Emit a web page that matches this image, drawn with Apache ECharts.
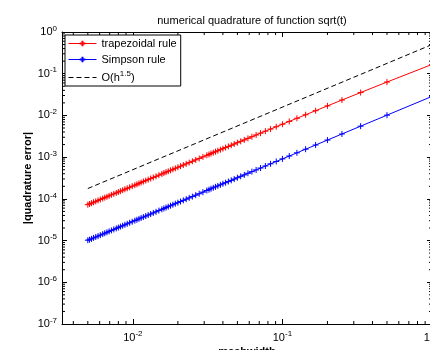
<!DOCTYPE html>
<html>
<head>
<meta charset="utf-8">
<script src="https://cdn.jsdelivr.net/npm/echarts@6/dist/echarts.min.js"></script>
<style>
  html, body { margin: 0; padding: 0; background: #fff; }
  #chart { width: 430px; height: 350px; }
</style>
</head>
<body>
<div id="chart"></div>
<script>
// meshwidth h = 1/N
const meshwidth = [
  1, 0.5, 0.3333, 0.25, 0.2, 0.1667, 0.1429, 0.125, 0.1111, 0.1,
  0.0909, 0.0833, 0.0769, 0.0714, 0.0667, 0.0625, 0.0588, 0.0556, 0.0526, 0.05,
  0.0476, 0.0455, 0.0435, 0.0417, 0.04, 0.0385, 0.037, 0.0357, 0.0345, 0.0333,
  0.0323, 0.03125, 0.02941, 0.02778, 0.02632, 0.025, 0.02381, 0.02273, 0.02174, 0.02083,
  0.02, 0.01923, 0.01852, 0.01786, 0.01724, 0.01667, 0.01613, 0.01563, 0.01493, 0.01429,
  0.0137, 0.01316, 0.01266, 0.0122, 0.01176, 0.01136, 0.01099, 0.01064, 0.01031, 0.0099,
  0.00952, 0.00917, 0.00885, 0.00855, 0.00826, 0.008, 0.00775, 0.00746, 0.00719, 0.00694,
  0.00671, 0.00649, 0.00629, 0.00606, 0.00585, 0.00565, 0.00546, 0.00529, 0.00513, 0.005
]
const trapezoidalError = [
  0.1667, 0.06308, 0.03538, 0.02339, 0.01693, 0.01299, 0.01038, 0.008537, 0.007186, 0.006158,
  0.005354, 0.004712, 0.004189, 0.003756, 0.003394, 0.003085, 0.002822, 0.002593, 0.002395, 0.00222,
  0.002066, 0.001929, 0.001806, 0.001696, 0.001596, 0.001507, 0.001425, 0.00135, 0.001282, 0.001219,
  0.001161, 0.001108, 0.001013, 0.00093, 0.000859, 0.000796, 0.00074, 0.000691, 0.000647, 0.000607,
  0.000571, 0.000539, 0.00051, 0.000483, 0.000458, 0.000436, 0.000415, 0.000396, 0.00037, 0.000347,
  0.000326, 0.000307, 0.000289, 0.000274, 0.00026, 0.000246, 0.000235, 0.000223, 0.000213, 0.000201,
  0.000189, 0.000179, 0.00017, 0.000161, 0.000153, 0.000146, 0.000139, 0.000132, 0.000125, 0.000118,
  0.000112, 0.000107, 0.000102, 0.0000966, 0.0000916, 0.000087, 0.0000828, 0.0000788, 0.0000752, 0.0000725
]
const simpsonError = [
  0.0286, 0.01015, 0.005525, 0.003589, 0.002568, 0.001953, 0.00155, 0.001269, 0.001063, 0.000908,
  0.000787, 0.000691, 0.000613, 0.000548, 0.000494, 0.000449, 0.00041, 0.000376, 0.000347, 0.000321,
  0.000298, 0.000278, 0.00026, 0.000244, 0.00023, 0.000217, 0.000205, 0.000194, 0.000184, 0.000175,
  0.000166, 0.000159, 0.0001448, 0.0001329, 0.0001226, 0.0001135, 0.0001055, 0.0000984, 0.000092, 0.0000863,
  0.0000812, 0.0000766, 0.0000724, 0.0000685, 0.000065, 0.0000618, 0.0000588, 0.0000561, 0.0000524, 0.000049,
  0.000046, 0.0000433, 0.0000409, 0.0000387, 0.0000366, 0.0000348, 0.0000331, 0.0000315, 0.0000301, 0.0000283,
  0.0000267, 0.0000252, 0.0000239, 0.0000227, 0.0000216, 0.0000205, 0.0000196, 0.0000185, 0.0000175, 0.0000166,
  0.0000158, 0.000015, 0.0000143, 0.0000135, 0.0000128, 0.0000122, 0.0000116, 0.000011, 0.0000105, 0.0000102
]
const refH = [0.005, 1]
const refErr = [1.77e-4, 0.5]

const xRange = [0.00336, 1]
const yRange = [1e-7, 1]
const xMinorTicks = [0.004, 0.005, 0.006, 0.007, 0.008, 0.009,
  0.02, 0.03, 0.04, 0.05, 0.06, 0.07, 0.08, 0.09,
  0.2, 0.3, 0.4, 0.5, 0.6, 0.7, 0.8, 0.9]
const yMinorTicks = []
for (let e = -7; e <= -1; e++) {
  for (let m = 2; m <= 9; m++) yMinorTicks.push(Number((m * Math.pow(10, e)).toPrecision(2)))
}

const font = "'Liberation Sans', Arial, sans-serif"
const plusSymbol = 'path://M-1,0L1,0M0,-1L0,1'

const powerLabel = (v) => {
  const e = Math.log10(v)
  if (Math.abs(e - Math.round(e)) > 1e-6) return ''
  return '{b|10}{e|' + Math.round(e) + '}'
}
const labelRich = {
  b: { fontSize: 11, fontFamily: font, color: '#000' },
  e: { fontSize: 8, fontFamily: font, color: '#000', verticalAlign: 'bottom', padding: [0, 0, 7, 0] }
}

const chart = echarts.init(document.getElementById('chart'))

const axisBase = {
  type: 'log',
  logBase: 10,
  nameMoveOverlap: false,
  axisLine: { show: true, lineStyle: { color: '#000', width: 1 } },
  axisTick: { show: true, inside: true, length: 5, lineStyle: { color: '#000' } },
  splitLine: { show: false }
}

const minorTickSeries = (data, isX) => ({
  type: 'custom',
  silent: true,
  clip: false,
  z: 10,
  data: data.map(v => isX ? [v, yRange[0]] : [xRange[0], v]),
  renderItem: (params, api) => {
    const v = isX ? api.value(0) : api.value(1)
    const a = api.coord(isX ? [v, yRange[0]] : [xRange[0], v])
    const b = api.coord(isX ? [v, yRange[1]] : [xRange[1], v])
    const style = { stroke: '#000', lineWidth: 1 }
    return {
      type: 'group',
      children: isX ? [
        { type: 'line', shape: { x1: a[0], y1: a[1], x2: a[0], y2: a[1] - 3 }, style },
        { type: 'line', shape: { x1: b[0], y1: b[1], x2: b[0], y2: b[1] + 3 }, style }
      ] : [
        { type: 'line', shape: { x1: a[0], y1: a[1], x2: a[0] + 3, y2: a[1] }, style },
        { type: 'line', shape: { x1: b[0], y1: b[1], x2: b[0] - 3, y2: b[1] }, style }
      ]
    }
  }
})

const option = {
  animation: false,
  backgroundColor: '#fff',
  title: {
    text: 'numerical quadrature of function sqrt(t)',
    left: 247,
    top: 10,
    textAlign: 'center',
    textStyle: { fontSize: 11, fontWeight: 'normal', fontFamily: font, color: '#000' }
  },
  legend: {
    orient: 'vertical',
    left: 65,
    top: 35,
    padding: [3, 4, 3, 3],
    itemGap: 5,
    itemWidth: 28,
    itemHeight: 7,
    backgroundColor: '#fff',
    borderColor: '#000',
    borderWidth: 1,
    borderRadius: 0,
    selectedMode: false,
    lineStyle: { width: 1 },
    textStyle: {
      fontSize: 11, fontFamily: font, color: '#000',
      rich: {
        t: { fontSize: 11, fontFamily: font, color: '#000' },
        s: { fontSize: 8, fontFamily: font, color: '#000', verticalAlign: 'bottom', padding: [0, 0, 7, 0] }
      }
    },
    formatter: name => name === 'O(h^1.5)' ? '{t|O(h}{s|1.5}{t|)}' : name,
    data: [
      'trapezoidal rule',
      'Simpson rule',
      { name: 'O(h^1.5)', itemStyle: { color: 'transparent', borderColor: 'transparent', borderWidth: 0 } }
    ]
  },
  grid: { left: 62, top: 32, right: -2, bottom: 26, outerBoundsMode: 'none' },
  xAxis: [
    {
      ...axisBase,
      position: 'bottom',
      min: xRange[0],
      max: xRange[1],
      name: 'meshwidth',
      nameLocation: 'middle',
      nameGap: 22,
      nameTextStyle: { fontSize: 11, fontWeight: 'bold', fontFamily: font, color: '#000' },
      axisLabel: { margin: 6, formatter: powerLabel, rich: labelRich, showMinLabel: false }
    },
    {
      ...axisBase,
      position: 'top',
      min: xRange[0],
      max: xRange[1],
      axisLabel: { show: false }
    }
  ],
  yAxis: [
    {
      ...axisBase,
      position: 'left',
      min: yRange[0],
      max: yRange[1],
      name: '|quadrature error|',
      nameLocation: 'middle',
      nameGap: 29,
      nameTextStyle: { fontSize: 11, fontWeight: 'bold', fontFamily: font, color: '#000' },
      axisLabel: { margin: 5, formatter: powerLabel, rich: labelRich }
    },
    {
      ...axisBase,
      position: 'right',
      min: yRange[0],
      max: yRange[1],
      axisLabel: { show: false }
    }
  ],
  series: [
    {
      name: 'trapezoidal rule',
      type: 'line',
      data: meshwidth.map((h, i) => [h, trapezoidalError[i]]),
      symbol: plusSymbol,
      symbolSize: 6,
      showAllSymbol: true,
      lineStyle: { color: '#ff0000', width: 1 },
      itemStyle: { color: '#ff0000', borderColor: '#ff0000', borderWidth: 1 },
      emphasis: { disabled: true }
    },
    {
      name: 'Simpson rule',
      type: 'line',
      data: meshwidth.map((h, i) => [h, simpsonError[i]]),
      symbol: plusSymbol,
      symbolSize: 6,
      showAllSymbol: true,
      lineStyle: { color: '#0000ff', width: 1 },
      itemStyle: { color: '#0000ff', borderColor: '#0000ff', borderWidth: 1 },
      emphasis: { disabled: true }
    },
    {
      name: 'O(h^1.5)',
      type: 'line',
      data: refH.map((h, i) => [h, refErr[i]]),
      symbol: 'none',
      lineStyle: { color: '#000', width: 1, type: [5, 3] },
      itemStyle: { color: '#000' },
      emphasis: { disabled: true }
    },
    minorTickSeries(xMinorTicks, true),
    minorTickSeries(yMinorTicks, false)
  ]
}

chart.setOption(option)
</script>
</body>
</html>
